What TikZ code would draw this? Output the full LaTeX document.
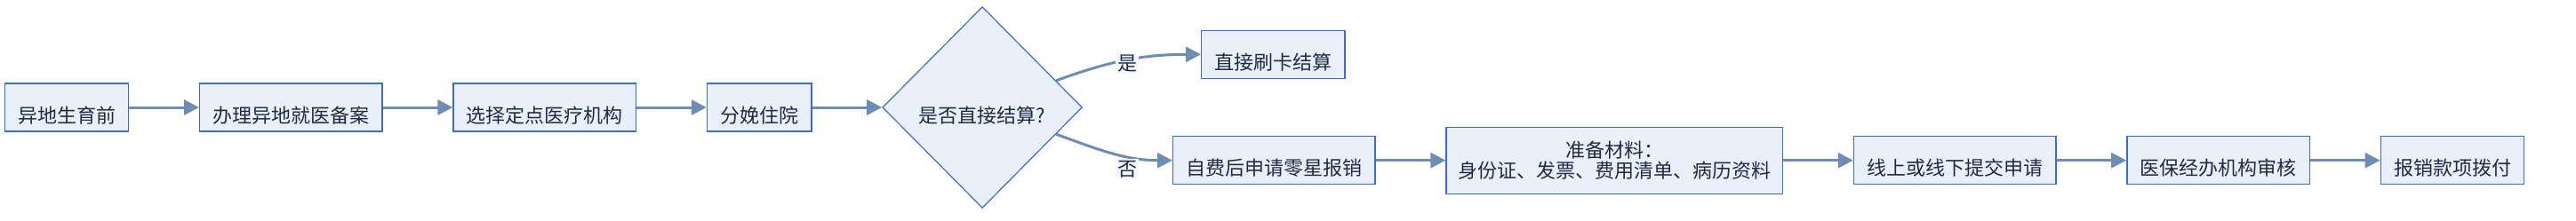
\documentclass[tikz,border=0pt]{standalone}
\usepackage{fontspec}
\setmainfont{Noto Sans CJK SC}
\usepackage{xcolor}
\usetikzlibrary{arrows.meta,positioning,shapes.geometric}

\definecolor{boxfill}{HTML}{EAF0FA}
\definecolor{boxline}{HTML}{3D6BD6}
\definecolor{arrowcol}{HTML}{6F8CB4}
\definecolor{textcol}{HTML}{1E2B45}
\definecolor{lblfill}{HTML}{F3F6FB}

\begin{document}
\begin{tikzpicture}[
    node distance=39.3pt,
    base/.style={draw=boxline, fill=boxfill, line width=0.7pt, text=textcol, font=\fontsize{11pt}{11.5pt}\selectfont, inner xsep=7.35pt},
    block/.style={base, inner ysep=0pt, text height=22pt, text depth=5pt},
    tallblock/.style={base, align=center, inner xsep=6.6pt, minimum height=37.5pt},
    decision/.style={base, diamond, inner sep=0pt, minimum width=112.3pt, minimum height=113.4pt, text height=20pt, text depth=2.2pt, line width=0.6pt},
    arrow/.style={-{Triangle[length=8.5pt, width=8.5pt]}, line width=1.5pt, draw=arrowcol},
    branch/.style={fill=lblfill, inner sep=1pt, text=textcol, font=\fontsize{11pt}{11.5pt}\selectfont}
]
\useasboundingbox (0,0) rectangle (1449pt,-124pt);

\node[block] (pre) at (37.5pt,-60.5pt) {异地生育前};
\node[block, right=of pre] (filing) {办理异地就医备案};
\node[block, right=of filing] (hosp) {选择定点医疗机构};
\node[block, right=of hosp] (birth) {分娩住院};
\node[decision, right=of birth] (settle) {是否直接结算?};

\node[block, above right=16pt and 66.5pt of settle.east] (direct) {直接刷卡结算};
\node[block, below right=16pt and 50.5pt of settle.east] (selfpay) {自费后申请零星报销};
\node[tallblock, right=of selfpay] (docs) {准备材料：\\身份证、发票、费用清单、病历资料};
\node[block, right=of docs] (submit) {线上或线下提交申请};
\node[block, right=of submit] (review) {医保经办机构审核};
\node[block, right=of review] (payout) {报销款项拨付};

\draw[arrow] (pre) -- (filing);
\draw[arrow] (filing) -- (hosp);
\draw[arrow] (hosp) -- (birth);
\draw[arrow] (birth) -- (settle);
\draw[arrow] (settle) to[out=20, in=180] node[branch, pos=0.5, yshift=-2pt] {是} (direct.west);
\draw[arrow] (settle) to[out=-20, in=180] node[branch, pos=0.63, yshift=-7.2pt] {否} (selfpay.west);
\draw[arrow] (selfpay) -- (docs);
\draw[arrow] (docs) -- (submit);
\draw[arrow] (submit) -- (review);
\draw[arrow] (review) -- (payout);
\end{tikzpicture}
\end{document}
